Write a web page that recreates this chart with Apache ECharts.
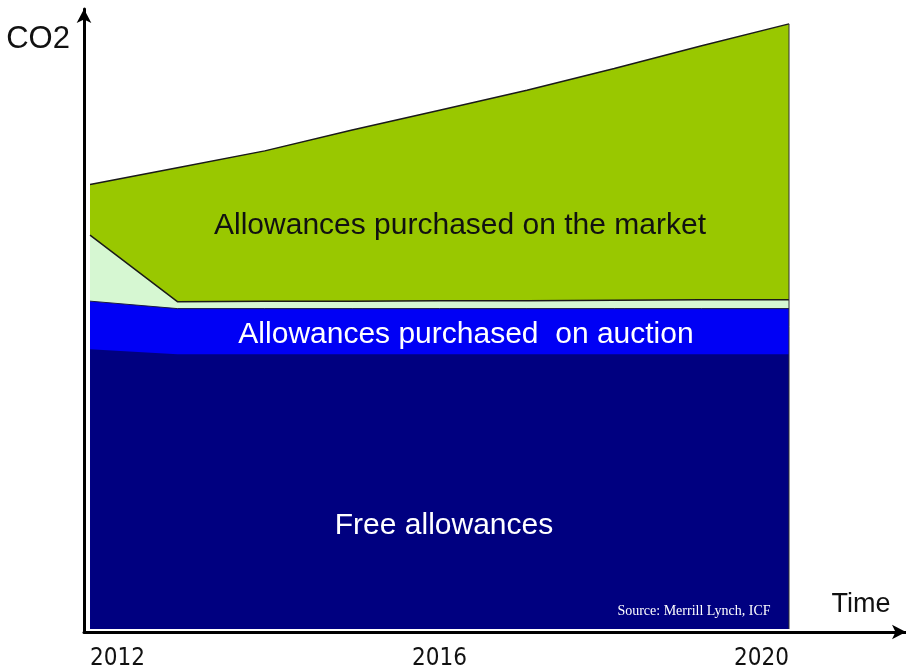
<!DOCTYPE html>
<html>
<head>
<meta charset="utf-8">
<title>CO2 allowances 2012–2020</title>
<script src="https://cdn.jsdelivr.net/npm/echarts@6/dist/echarts.min.js"></script>
<style>
  html, body { margin: 0; padding: 0; background: #ffffff; }
  #chart { width: 906px; height: 671px; }
</style>
</head>
<body>
<div id="chart"></div>
<script>
// Years on the horizontal axis
const years = [2012, 2013, 2014, 2015, 2016, 2017, 2018, 2019, 2020];
const yearTicks = [2012, 2016, 2020];

// Layer thicknesses (arbitrary CO2 units), listed from the bottom layer up
const freeAllowances    = [282, 277, 277, 277, 277, 277, 277, 277, 277];
const auctionAllowances = [48.5, 46, 46, 46, 46, 46, 46, 46, 46];
const residualFree      = [66.5, 7, 7.5, 7.5, 8, 8, 8.5, 9, 9];
const marketAllowances  = [51, 135, 151.5, 172.5, 192, 212, 233.5, 256, 278];

const layerNames = [
  'Free allowances',
  'Allowances purchased on auction',
  'Residual free allocation',
  'Allowances purchased on the market'
];

// Running totals so each layer's upper edge sits on the one below it.
const layers = [freeAllowances, auctionAllowances, residualFree, marketAllowances];
const tops = [];
layers.forEach((vals, k) => {
  tops.push(vals.map((v, i) => v + (k > 0 ? tops[k - 1][i] : 0)));
});
const pairs = (vals) => years.map((y, i) => [y, vals[i]]);
const lastIdx = years.length - 1;

const fills = ['#000080', '#0000f5', '#d6f7d2', '#99c800'];
const edges = [
  { width: 0, color: '#000080' },
  { width: 1, color: '#1a1a40' },
  { width: 1.5, color: '#1a1a1a' },
  { width: 1.5, color: '#1a1a1a' }
];

// Each area fills down to the baseline; lower layers are drawn above higher ones.
const areaSeries = layers.map((_, k) => ({
  name: layerNames[k],
  type: 'line',
  data: pairs(tops[k]),
  showSymbol: false,
  lineStyle: edges[k],
  areaStyle: { color: fills[k], opacity: 1 },
  z: 2 + (layers.length - k)
}));

const chart = echarts.init(document.getElementById('chart'), null, { renderer: 'canvas' });
const sans = "'Liberation Sans', Arial, sans-serif";

chart.setOption({
  animation: false,
  grid: { left: 84, right: 0, top: 9, bottom: 34, containLabel: false },
  xAxis: {
    type: 'value',
    min: 2011.931,
    max: 2021.339,
    splitLine: { show: false },
    axisLine: {
      show: true,
      onZero: false,
      symbol: ['none', 'arrow'],
      symbolSize: [11, 14],
      lineStyle: { color: '#000', width: 3 }
    },
    axisTick: { show: false },
    axisLabel: {
      customValues: yearTicks,
      alignMinLabel: 'left',
      alignMaxLabel: 'right',
      margin: 15,
      color: '#111',
      fontSize: 24,
      fontFamily: "'Liberation Sans Narrow', 'DejaVu Sans Condensed', sans-serif",
      formatter: (v) => String(v)
    }
  },
  yAxis: {
    type: 'value',
    min: -3,
    max: 625,
    splitLine: { show: false },
    axisLine: {
      show: true,
      onZero: false,
      symbol: ['none', 'arrow'],
      symbolSize: [11, 14],
      lineStyle: { color: '#000', width: 3 }
    },
    axisTick: { show: false },
    axisLabel: { show: false }
  },
  series: areaSeries.concat([
    {
      // right-hand closing edge of the stacked block
      name: 'edge',
      type: 'line',
      data: [[years[lastIdx], 0], [years[lastIdx], tops[3][lastIdx]]],
      showSymbol: false,
      lineStyle: { width: 1, color: '#333' },
      z: 8
    }
  ]),
  graphic: [
    {
      type: 'text', x: 460, y: 226, z: 10,
      style: { text: layerNames[3], fill: '#111', font: '30px ' + sans, align: 'center', verticalAlign: 'middle' }
    },
    {
      type: 'text', x: 466, y: 335, z: 10,
      style: { text: 'Allowances purchased  on auction', fill: '#ffffff', font: '30px ' + sans, align: 'center', verticalAlign: 'middle' }
    },
    {
      type: 'text', x: 444, y: 526, z: 10,
      style: { text: layerNames[0], fill: '#ffffff', font: '30px ' + sans, align: 'center', verticalAlign: 'middle' }
    },
    {
      type: 'text', x: 694, y: 611, z: 10,
      style: { text: 'Source: Merrill Lynch, ICF', fill: '#ffffff', font: '14px "Liberation Serif", serif', align: 'center', verticalAlign: 'middle' }
    },
    {
      type: 'text', x: 38, y: 39, z: 10,
      style: { text: 'CO2', fill: '#111', font: '31px ' + sans, align: 'center', verticalAlign: 'middle' }
    },
    {
      type: 'text', x: 861, y: 605, z: 10,
      style: { text: 'Time', fill: '#111', font: '27px ' + sans, align: 'center', verticalAlign: 'middle' }
    }
  ]
});
</script>
</body>
</html>
